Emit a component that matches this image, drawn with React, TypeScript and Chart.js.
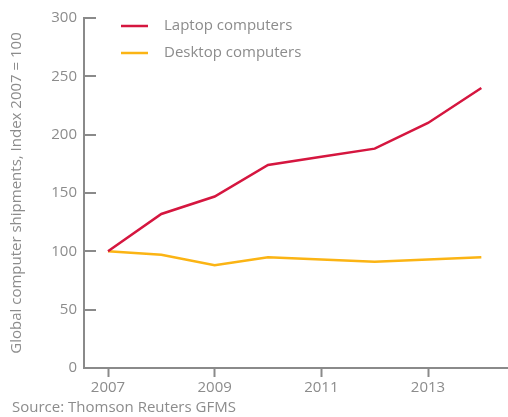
import React, { useEffect, useRef } from "react";
import { Chart, registerables } from "chart.js";

Chart.register(...registerables);

const years = [2007, 2008, 2009, 2010, 2011, 2012, 2013, 2014];
const laptop = [100, 132, 147, 174, 181, 188, 210, 240];
const desktop = [100, 97, 88, 95, 93, 91, 93, 95];
const xTickLabels = [2007, 2009, 2011, 2013];
const yTicks = [0, 50, 100, 150, 200, 250, 300];
const seriesNames = ["Laptop computers", "Desktop computers"];
const seriesColors = ["#d5163f", "#fbb414"];
const yTitle = "Global computer shipments, Index 2007 = 100";
const sourceText = "Source: Thomson Reuters GFMS";

const FONT = "'Open Sans', sans-serif";
const GREY = "#8c8c8c";
const AXIS = "#8a8a8a";

export default function App() {
  const ref = useRef<HTMLCanvasElement | null>(null);

  useEffect(() => {
    if (!ref.current) return;
    const overlay = {
      id: "overlay",
      afterDraw(chart: any) {
        const ctx = chart.ctx;
        const area = chart.chartArea;
        const y = chart.scales.y;
        ctx.save();
        ctx.strokeStyle = AXIS;
        ctx.lineWidth = 2;
        yTicks.forEach((v) => {
          const py = Math.round(y.getPixelForValue(v));
          ctx.beginPath();
          ctx.moveTo(area.left, py);
          ctx.lineTo(area.left + 12, py);
          ctx.stroke();
        });
        ctx.font = `15px ${FONT}`;
        ctx.textBaseline = "middle";
        ctx.textAlign = "left";
        seriesNames.forEach((name, i) => {
          const ly = 26 + i * 27;
          ctx.strokeStyle = seriesColors[i];
          ctx.lineWidth = 2.5;
          ctx.beginPath();
          ctx.moveTo(121, ly);
          ctx.lineTo(148, ly);
          ctx.stroke();
          ctx.fillStyle = GREY;
          ctx.fillText(name, 164, ly);
        });
        ctx.fillStyle = GREY;
        ctx.fillText(sourceText, 12, 408);
        ctx.restore();
      },
    };

    const chart = new Chart(ref.current, {
      type: "line",
      data: {
        datasets: [
          {
            label: seriesNames[0],
            data: years.map((x, i) => ({ x, y: laptop[i] })),
            borderColor: seriesColors[0],
            borderWidth: 2.5,
            pointRadius: 0,
            tension: 0,
          },
          {
            label: seriesNames[1],
            data: years.map((x, i) => ({ x, y: desktop[i] })),
            borderColor: seriesColors[1],
            borderWidth: 2.5,
            pointRadius: 0,
            tension: 0,
          },
        ],
      },
      options: {
        animation: false,
        responsive: false,
        maintainAspectRatio: false,
        layout: { padding: { top: 18, right: 0, left: 0, bottom: 0 } },
        plugins: {
          legend: { display: false },
          tooltip: { enabled: false },
        },
        scales: {
          x: {
            type: "linear",
            min: 2006.55,
            max: 2014.5,
            afterBuildTicks: (s: any) => {
              s.ticks = xTickLabels.map((v) => ({ value: v }));
            },
            afterFit: (s: any) => {
              s.height = 49;
            },
            ticks: {
              color: GREY,
              font: { family: FONT, size: 15 },
              padding: 2,
              maxRotation: 0,
              autoSkip: false,
              callback: (v: any) => String(v),
            },
            grid: {
              drawOnChartArea: false,
              drawTicks: true,
              tickLength: 9,
              tickWidth: 2,
              tickColor: AXIS,
            },
            border: { color: AXIS, width: 2 },
          },
          y: {
            min: 0,
            max: 300,
            afterBuildTicks: (s: any) => {
              s.ticks = yTicks.map((v) => ({ value: v }));
            },
            afterFit: (s: any) => {
              s.width = 84;
            },
            ticks: {
              color: GREY,
              font: { family: FONT, size: 15 },
              padding: 7,
            },
            grid: { drawOnChartArea: false, drawTicks: false },
            border: { color: AXIS, width: 2 },
            title: {
              display: true,
              text: yTitle,
              color: GREY,
              font: { family: FONT, size: 15 },
              padding: { top: 8, bottom: 0 },
            },
          },
        },
      },
      plugins: [overlay],
    });
    return () => chart.destroy();
  }, []);

  return (
    <div style={{ position: "fixed", left: 0, top: 0, width: 508, height: 417, background: "#fff" }}>
      <canvas ref={ref} width={508} height={417} style={{ display: "block" }} />
    </div>
  );
}
